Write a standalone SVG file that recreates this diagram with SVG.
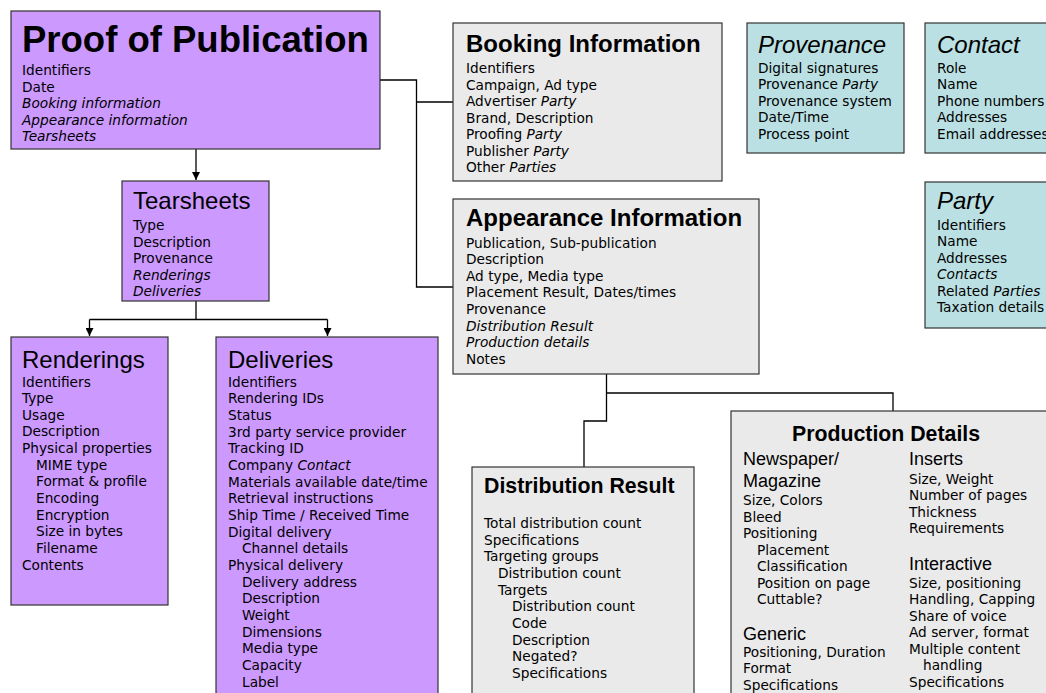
<svg xmlns="http://www.w3.org/2000/svg" width="1046" height="693" viewBox="0 0 1046 693">
<defs>
<style>
.pp{fill:#CC99FF;stroke:#333;stroke-width:1.2}
.gg{fill:#EAEAEA;stroke:#333;stroke-width:1.2}
.tt{fill:#BBE0E3;stroke:#333;stroke-width:1.2}
.b{font-family:"DejaVu Sans",Verdana,sans-serif;font-size:13.7px;fill:#000}
.h{font-family:"Liberation Sans",Arial,sans-serif;font-size:24px;fill:#000}
.hb{font-family:"Liberation Sans",Arial,sans-serif;font-size:24px;font-weight:bold;fill:#000}
.hs{font-family:"Liberation Sans",Arial,sans-serif;font-size:18px;fill:#000}
.i{font-style:italic}
.c{fill:none;stroke:#000;stroke-width:1.3}
</style>
<marker id="arr" viewBox="0 0 10 10" refX="10" refY="5" markerWidth="8" markerHeight="8" markerUnits="userSpaceOnUse" orient="auto">
<path d="M0,0 L10,5 L0,10 z" fill="#000"/>
</marker>
</defs>
<rect width="1046" height="693" fill="#fff"/>

<g id="connectors">
<path class="c" d="M196,149 V180" marker-end="url(#arr)"/>
<path class="c" d="M196,301 V319.5 M89.5,319.5 H327.5"/>
<path class="c" d="M89.5,319.5 V336" marker-end="url(#arr)"/>
<path class="c" d="M327.5,319.5 V336" marker-end="url(#arr)"/>
<path class="c" d="M380,80 H416.5 V287 H453 M416.5,102 H453"/>
<path class="c" d="M606.5,374 V421 H584 V467 M606.5,393 H893 V411"/>
</g>

<g id="proof">
<rect x="11" y="11" width="369" height="138" class="pp"/>
<text x="22" y="52" class="hb" style="font-size:36.5px">Proof of Publication</text>
<text class="b" x="22" y="75">Identifiers<tspan x="22" dy="16.5">Date</tspan><tspan x="22" dy="16.5" class="i">Booking information</tspan><tspan x="22" dy="16.5" class="i">Appearance information</tspan><tspan x="22" dy="16.5" class="i">Tearsheets</tspan></text>
</g>

<g id="tearsheets">
<rect x="122" y="181" width="147" height="120" class="pp"/>
<text x="133" y="209" class="h">Tearsheets</text>
<text class="b" x="133" y="230">Type<tspan x="133" dy="16.5">Description</tspan><tspan x="133" dy="16.5">Provenance</tspan><tspan x="133" dy="16.5" class="i">Renderings</tspan><tspan x="133" dy="16.5" class="i">Deliveries</tspan></text>
</g>

<g id="renderings">
<rect x="11" y="337" width="157" height="268" class="pp"/>
<text x="22" y="368" class="h">Renderings</text>
<text class="b" x="22" y="386.5">Identifiers<tspan x="22" dy="16.65">Type</tspan><tspan x="22" dy="16.65">Usage</tspan><tspan x="22" dy="16.65">Description</tspan><tspan x="22" dy="16.65">Physical properties</tspan><tspan x="36" dy="16.65">MIME type</tspan><tspan x="36" dy="16.65">Format &amp; profile</tspan><tspan x="36" dy="16.65">Encoding</tspan><tspan x="36" dy="16.65">Encryption</tspan><tspan x="36" dy="16.65">Size in bytes</tspan><tspan x="36" dy="16.65">Filename</tspan><tspan x="22" dy="16.65">Contents</tspan></text>
</g>

<g id="deliveries">
<rect x="216" y="337" width="222" height="370" class="pp"/>
<text x="228" y="368" class="h">Deliveries</text>
<text class="b" x="228" y="386.5">Identifiers<tspan x="228" dy="16.67">Rendering IDs</tspan><tspan x="228" dy="16.67">Status</tspan><tspan x="228" dy="16.67">3rd party service provider</tspan><tspan x="228" dy="16.67">Tracking ID</tspan><tspan x="228" dy="16.67">Company <tspan class="i">Contact</tspan></tspan><tspan x="228" dy="16.67">Materials available date/time</tspan><tspan x="228" dy="16.67">Retrieval instructions</tspan><tspan x="228" dy="16.67">Ship Time / Received Time</tspan><tspan x="228" dy="16.67">Digital delivery</tspan><tspan x="242" dy="16.67">Channel details</tspan><tspan x="228" dy="16.67">Physical delivery</tspan><tspan x="242" dy="16.67">Delivery address</tspan><tspan x="242" dy="16.67">Description</tspan><tspan x="242" dy="16.67">Weight</tspan><tspan x="242" dy="16.67">Dimensions</tspan><tspan x="242" dy="16.67">Media type</tspan><tspan x="242" dy="16.67">Capacity</tspan><tspan x="242" dy="16.67">Label</tspan></text>
</g>

<g id="booking">
<rect x="453" y="23" width="269" height="158" class="gg"/>
<text x="466" y="52" class="hb">Booking Information</text>
<text class="b" x="466" y="73">Identifiers<tspan x="466" dy="16.5">Campaign, Ad type</tspan><tspan x="466" dy="16.5">Advertiser <tspan class="i">Party</tspan></tspan><tspan x="466" dy="16.5">Brand, Description</tspan><tspan x="466" dy="16.5">Proofing <tspan class="i">Party</tspan></tspan><tspan x="466" dy="16.5">Publisher <tspan class="i">Party</tspan></tspan><tspan x="466" dy="16.5">Other <tspan class="i">Parties</tspan></tspan></text>
</g>

<g id="appearance">
<rect x="453" y="199" width="306" height="175" class="gg"/>
<text x="466" y="226" class="hb">Appearance Information</text>
<text class="b" x="466" y="247.5">Publication, Sub-publication<tspan x="466" dy="16.6">Description</tspan><tspan x="466" dy="16.6">Ad type, Media type</tspan><tspan x="466" dy="16.6">Placement Result, Dates/times</tspan><tspan x="466" dy="16.6">Provenance</tspan><tspan x="466" dy="16.6" class="i">Distribution Result</tspan><tspan x="466" dy="16.6" class="i">Production details</tspan><tspan x="466" dy="16.6">Notes</tspan></text>
</g>

<g id="provenance">
<rect x="747" y="23" width="157" height="130" class="tt"/>
<text x="758" y="53" class="h i">Provenance</text>
<text class="b" x="758" y="72.5">Digital signatures<tspan x="758" dy="16.5">Provenance <tspan class="i">Party</tspan></tspan><tspan x="758" dy="16.5">Provenance system</tspan><tspan x="758" dy="16.5">Date/Time</tspan><tspan x="758" dy="16.5">Process point</tspan></text>
</g>

<g id="contact">
<rect x="925" y="23" width="140" height="130" class="tt"/>
<text x="937" y="53" class="h i">Contact</text>
<text class="b" x="937" y="72.5">Role<tspan x="937" dy="16.5">Name</tspan><tspan x="937" dy="16.5">Phone numbers</tspan><tspan x="937" dy="16.5">Addresses</tspan><tspan x="937" dy="16.5">Email addresses</tspan></text>
</g>

<g id="party">
<rect x="925" y="182" width="140" height="146" class="tt"/>
<text x="937" y="209" class="h i">Party</text>
<text class="b" x="937" y="230">Identifiers<tspan x="937" dy="16.4">Name</tspan><tspan x="937" dy="16.4">Addresses</tspan><tspan x="937" dy="16.4" class="i">Contacts</tspan><tspan x="937" dy="16.4">Related <tspan class="i">Parties</tspan></tspan><tspan x="937" dy="16.4">Taxation details</tspan></text>
</g>

<g id="distribution">
<rect x="472" y="467" width="222" height="240" class="gg"/>
<text x="484" y="493" class="hb" style="font-size:21.3px">Distribution Result</text>
<text class="b" x="484" y="528">Total distribution count<tspan x="484" dy="16.67">Specifications</tspan><tspan x="484" dy="16.67">Targeting groups</tspan><tspan x="498" dy="16.67">Distribution count</tspan><tspan x="498" dy="16.67">Targets</tspan><tspan x="512" dy="16.67">Distribution count</tspan><tspan x="512" dy="16.67">Code</tspan><tspan x="512" dy="16.67">Description</tspan><tspan x="512" dy="16.67">Negated?</tspan><tspan x="512" dy="16.67">Specifications</tspan></text>
</g>

<g id="production">
<rect x="731" y="411" width="330" height="290" class="gg"/>
<text x="886" y="441" class="hb" style="font-size:21.3px" text-anchor="middle">Production Details</text>
<text x="743" y="465" class="hs">Newspaper/</text>
<text x="743" y="487" class="hs">Magazine</text>
<text class="b" x="743" y="505">Size, Colors<tspan x="743" dy="16.5">Bleed</tspan><tspan x="743" dy="16.5">Positioning</tspan><tspan x="757" dy="16.5">Placement</tspan><tspan x="757" dy="16.5">Classification</tspan><tspan x="757" dy="16.5">Position on page</tspan><tspan x="757" dy="16.5">Cuttable?</tspan></text>
<text x="743" y="639.5" class="hs">Generic</text>
<text class="b" x="743" y="656.5">Positioning, Duration<tspan x="743" dy="16.5">Format</tspan><tspan x="743" dy="16.5">Specifications</tspan></text>
<text x="909" y="465" class="hs">Inserts</text>
<text class="b" x="909" y="483.5">Size, Weight<tspan x="909" dy="16.5">Number of pages</tspan><tspan x="909" dy="16.5">Thickness</tspan><tspan x="909" dy="16.5">Requirements</tspan></text>
<text x="909" y="570" class="hs">Interactive</text>
<text class="b" x="909" y="587.7">Size, positioning<tspan x="909" dy="16.5">Handling, Capping</tspan><tspan x="909" dy="16.5">Share of voice</tspan><tspan x="909" dy="16.5">Ad server, format</tspan><tspan x="909" dy="16.5">Multiple content</tspan><tspan x="923" dy="16.5">handling</tspan><tspan x="909" dy="16.5">Specifications</tspan></text>
</g>
</svg>
